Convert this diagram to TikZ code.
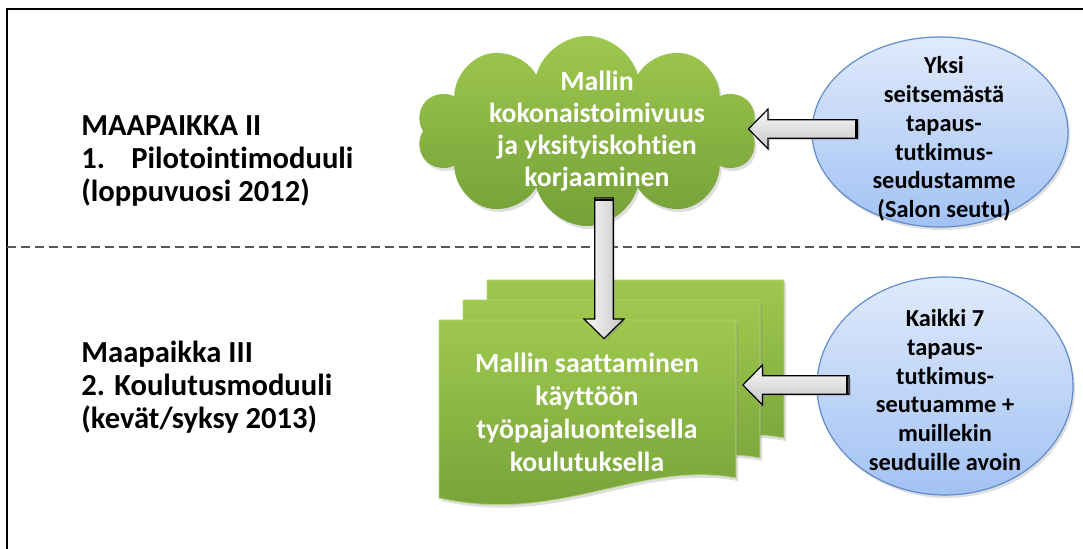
\documentclass[tikz,border=0pt]{standalone}
\usepackage{fontspec}
\setmainfont{Carlito}[Ligatures=NoCommon]
\usetikzlibrary{calc,shapes.symbols,shapes.geometric,shadows}

\definecolor{leafhi}{RGB}{158,200,78}
\definecolor{leaflo}{RGB}{116,160,56}
\definecolor{skyhi}{RGB}{224,234,251}
\definecolor{skylo}{RGB}{162,194,245}
\definecolor{skyrim}{RGB}{95,140,205}
\definecolor{pagerim}{RGB}{182,212,128}

\newcommand{\docpage}[2]{%
  \draw[page] (#1,#2) -- (#1+297,#2) -- (#1+297,#2-158)
    .. controls (#1+200,#2-140) and (#1+120,#2-205) .. (#1,#2-178) -- cycle;}

\newcommand{\fatarrow}[3][]{%
  \path let \p1=($(#3)-(#2)$) in \pgfextra{%
    \pgfmathsetmacro\fatlen{veclen(\x1,\y1)}%
    \pgfmathsetmacro\fatdir{atan2(\y1,\x1)}%
    \global\let\fatlen\fatlen \global\let\fatdir\fatdir};
  \begin{scope}[shift={(#2)},rotate=\fatdir]
    \draw[fat,#1] (0pt,-4.6pt) -- (\fatlen pt-9.8pt,-4.6pt) -- (\fatlen pt-9.8pt,-10pt)
      -- (\fatlen pt,0pt) -- (\fatlen pt-9.8pt,10pt) -- (\fatlen pt-9.8pt,4.6pt)
      -- (0pt,4.6pt) -- cycle;
    \draw[line width=1.1pt] (0.9pt,-4.6pt) -- (0.9pt,4.6pt);
  \end{scope}}

\begin{document}
\begin{tikzpicture}[x=0.5pt,y=0.5pt,
  lab/.style={font=\bfseries\fontsize{15.3}{16.5}\selectfont,align=left,anchor=base west,inner sep=0pt},
  blob/.style={cloud,cloud puffs=10,cloud ignores aspect,top color=leafhi,bottom color=leaflo,
    minimum width=170pt,minimum height=95pt,inner sep=0pt,
    drop shadow={opacity=0.25,shadow xshift=1pt,shadow yshift=-1.5pt}},
  leaftext/.style={text=white,align=center,inner sep=0pt,font=\bfseries\fontsize{13.9}{16}\selectfont},
  case/.style={ellipse,draw=skyrim,line width=0.6pt,top color=skyhi,bottom color=skylo,
    minimum width=128pt,minimum height=95pt,inner sep=0pt,
    drop shadow={opacity=0.25,shadow xshift=1pt,shadow yshift=-1.5pt}},
  casetext/.style={align=center,inner sep=0pt,font=\bfseries\fontsize{12.2}{14.4}\selectfont},
  page/.style={draw=pagerim,line width=0.4pt,top color=leafhi,bottom color=leaflo,
    drop shadow={opacity=0.25,shadow xshift=1pt,shadow yshift=-1.5pt}},
  doctext/.style={text=white,align=center,inner sep=0pt,minimum width=148.5pt,minimum height=90pt,
    font=\bfseries\fontsize{13.9}{16.5}\selectfont},
  fat/.style={draw=black,line width=0.6pt,top color=gray!4,bottom color=gray!45,
    drop shadow={opacity=0.3,shadow xshift=1pt,shadow yshift=-1pt}}]
\useasboundingbox (0,0) rectangle (1083,549);
\draw[line width=1.4pt] (7,0) -- (7,540) -- (1083,540);
\draw[gray!70!black,line width=0.6pt,dash pattern=on 4.5pt off 2.5pt] (7,302) -- (1083,302);

\node[lab] (mp2) at (81,347) {MAAPAIKKA II\\\makebox[25pt][l]{1.}Pilotointimoduuli\\(loppuvuosi 2012)};
\node[lab] (mp3) at (81,120) {Maapaikka III\\2. Koulutusmoduuli\\(kevät/syksy 2013)};

\docpage{487}{269}
\docpage{463}{249}
\docpage{439}{229}
\node[doctext] (doc) at (587,137) {Mallin saattaminen\\käyttöön\\työpajaluonteisella\\koulutuksella};

\node[blob,label={[leaftext,xshift=5pt]center:{Mallin\\kokonaistoimivuus\\ja yksityiskohtien\\korjaaminen}}] (cloud) at (587,418) {};
\node[case,label={[casetext,yshift=-3.5pt,xshift=2pt]center:{Yksi\\seitsemästä\\tapaus-\\tutkimus-\\seudustamme\\(Salon seutu)}}] (caseA) at (940,417) {};
\node[case,minimum height=109pt,label={[casetext,yshift=-2pt]center:{Kaikki 7\\tapaus-\\tutkimus-\\seutuamme +\\muillekin\\seuduille avoin}}] (caseB) at (945,163) {};

\coordinate (a1) at ($(caseA.west)+(46,3)$);
\coordinate (a1tip) at ($(cloud.east |- a1)+(-3,0)$);
\coordinate (a2) at ($(cloud.center)+(17,-67)$);
\coordinate (a2tip) at ($(doc.north)+(17,-17)$);
\coordinate (a3) at ($(caseB.west)+(32.5,1)$);
\coordinate (a3tip) at ($(doc.east)+(7,27)$);
\fatarrow{a1}{a1tip}
\fatarrow[left color=gray!4,right color=gray!45]{a2}{a2tip}
\fatarrow{a3}{a3tip}
\end{tikzpicture}
\end{document}
